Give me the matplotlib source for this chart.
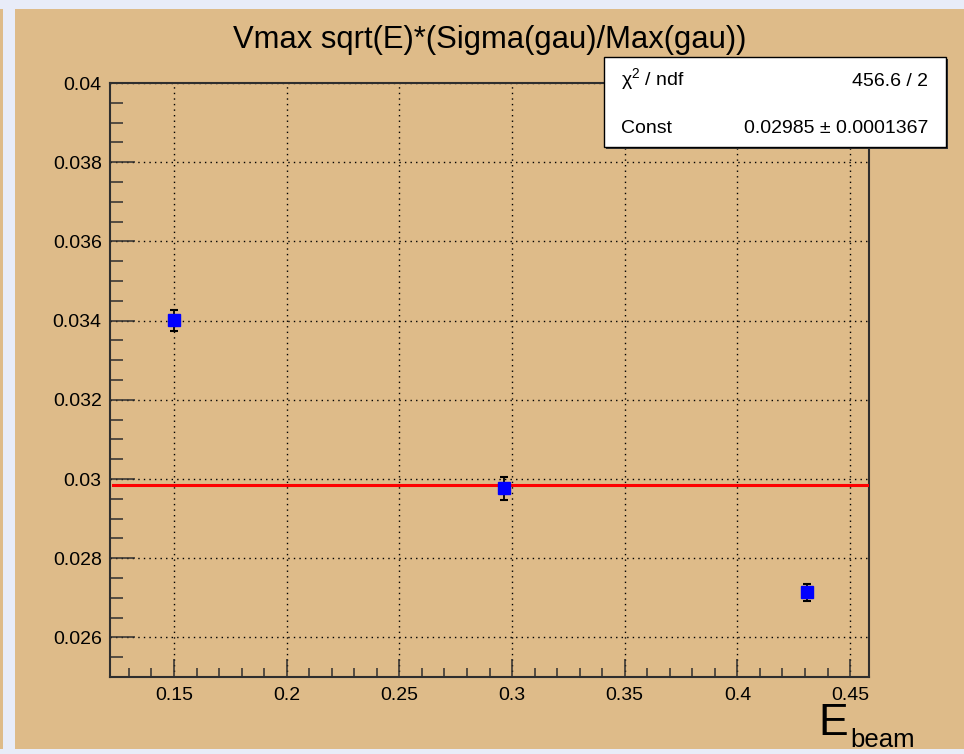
import matplotlib
matplotlib.use("Agg")
import matplotlib.pyplot as plt
from matplotlib.patches import Rectangle
from matplotlib.ticker import MultipleLocator, FormatStrFormatter

plt.rcParams['font.family'] = ['Liberation Sans', 'DejaVu Sans']
plt.rcParams['mathtext.fontset'] = 'custom'
plt.rcParams['mathtext.rm'] = 'Liberation Sans'

# Beam energy points and fitted resolution term
e_beam = [0.15, 0.2964, 0.4311]
resolution = [0.034003, 0.029765, 0.027145]
resolution_err = [0.00026, 0.000285, 0.000215]

fit_const = 0.02985
fit_const_err = 0.0001367
chi2 = 456.6
ndf = 2
fit_range = [0.123, 0.4584]

title = "Vmax sqrt(E)*(Sigma(gau)/Max(gau))"

W, H = 964, 754
TAN = '#debb89'
BLUE_BG = '#e8ecf8'

fig = plt.figure(figsize=(W / 100, H / 100), dpi=100, facecolor=BLUE_BG)


def fx(px):
    return px / W


def fy(py):
    return 1 - py / H


# canvas
fig.patches.append(Rectangle((fx(15), fy(749)), fx(964) - fx(15), fy(9) - fy(749),
                             transform=fig.transFigure, facecolor=TAN, edgecolor='none', zorder=-2))
fig.patches.append(Rectangle((0, fy(749)), fx(3), fy(9) - fy(749),
                             transform=fig.transFigure, facecolor=TAN, edgecolor='none', zorder=-2))

ax = fig.add_axes([fx(110), fy(677), fx(869) - fx(110), fy(83) - fy(677)])
ax.set_zorder(1)
ax.set_facecolor(TAN)
ax.set_xlim(0.1216, 0.4584)
ax.set_ylim(0.025, 0.040)

for s in ax.spines.values():
    s.set_color('#2e2e2e')
    s.set_linewidth(1.5)

ax.xaxis.set_major_locator(MultipleLocator(0.05))
ax.xaxis.set_minor_locator(MultipleLocator(0.01))
ax.yaxis.set_major_locator(MultipleLocator(0.002))
ax.yaxis.set_minor_locator(MultipleLocator(0.0005))
ax.xaxis.set_major_formatter(FormatStrFormatter('%g'))
ax.yaxis.set_major_formatter(FormatStrFormatter('%g'))

ax.tick_params(axis='both', which='both', direction='in', top=False, right=False,
               color='#2e2e2e', labelsize=14, width=1.1)
ax.tick_params(axis='y', which='major', length=18, pad=6)
ax.tick_params(axis='y', which='minor', length=9)
ax.tick_params(axis='x', which='major', length=13, pad=7)
ax.tick_params(axis='x', which='minor', length=6.5)

ax.grid(True, which='major', color='black', linestyle=(0, (1, 3)), linewidth=1.0)
ax.set_axisbelow(True)

ax.plot(fit_range, [fit_const, fit_const], color='#ff0000', linewidth=2.2, zorder=3)

ax.errorbar(e_beam, resolution, yerr=resolution_err, fmt='s', color='#0000ff',
            markersize=8, markeredgecolor='#0000ff', ecolor='black', elinewidth=1.3,
            capsize=3, capthick=1.5, zorder=4)

fig.text(fx(490), fy(48), title, ha='center', va='baseline', fontsize=22.3)

# statistics box
bx0, by0, bx1, by1 = 604, 57, 946, 147
fig.patches.append(Rectangle((fx(bx0 + 2), fy(by1 + 2)), fx(bx1 - bx0), fy(by0) - fy(by1),
                             transform=fig.transFigure, facecolor='#333333',
                             edgecolor='none', zorder=5))
fig.patches.append(Rectangle((fx(bx0), fy(by1)), fx(bx1 - bx0), fy(by0) - fy(by1),
                             transform=fig.transFigure, facecolor='white',
                             edgecolor='black', linewidth=1.0, zorder=6))
fig.text(fx(621), fy(86), "\u03c7$^{2}$ / ndf", ha='left', va='baseline', fontsize=14, zorder=7)
fig.text(fx(928), fy(86), f"{chi2:g} / {ndf}", ha='right', va='baseline', fontsize=14, zorder=7)
fig.text(fx(621), fy(133), "Const", ha='left', va='baseline', fontsize=14, zorder=7)
fig.text(fx(928), fy(133), f"{fit_const:g} \u00b1 {fit_const_err:g}", ha='right',
         va='baseline', fontsize=14, zorder=7)

# axis title
fig.text(fx(818), fy(735), "E", ha='left', va='baseline', fontsize=32)
fig.text(fx(850), fy(747), "beam", ha='left', va='baseline', fontsize=18.5)

fig.savefig("out.png", dpi=100, facecolor=BLUE_BG)
